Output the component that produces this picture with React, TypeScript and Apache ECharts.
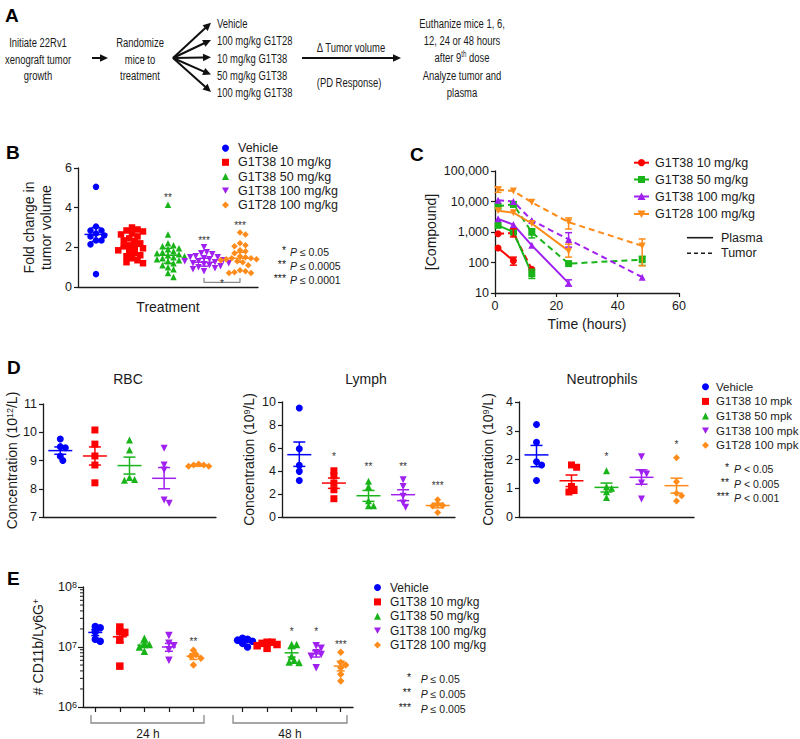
import React, { useEffect, useRef } from "react";
import * as echarts from "echarts";

const FONT = "'Liberation Sans', Arial, Helvetica, sans-serif";
const INK = "#1a1a1a";
const COLORS = ["#0000ff", "#ff0000", "#19b419", "#a020f0", "#ff8c1a"];
const DOWN_TRI = "path://M0,0L10,0L5,9Z";
const SYMBOLS = ["circle", "rect", "triangle", DOWN_TRI, "diamond"];

// ---------- Panel A (flow diagram) ----------
const A_START = ["Initiate 22Rv1", "xenograft tumor", "growth"];
const A_RANDOM = ["Randomize", "mice to", "treatment"];
const A_ARMS = ["Vehicle", "100 mg/kg G1T28", "10 mg/kg G1T38", "50 mg/kg G1T38", "100 mg/kg G1T38"];
const A_ARROW_TOP = "Δ Tumor volume";
const A_ARROW_BOTTOM = "(PD Response)";
const A_END = ["Euthanize mice 1, 6,", "12, 24 or 48 hours", "after 9{sup|th} dose", "Analyze tumor and", "plasma"];

// ---------- Panel B ----------
const B_GROUPS = ["Vehicle", "G1T38 10 mg/kg", "G1T38 50 mg/kg", "G1T38 100 mg/kg", "G1T28 100 mg/kg"];
const B_VEHICLE = [5.05, 3.05, 2.85, 2.85, 2.7, 2.6, 2.55, 2.35, 2.35, 2.15, 0.65];
const B_G1T38_10 = [3.0, 2.9, 2.85, 2.8, 2.7, 2.65, 2.55, 2.45, 2.35, 2.3, 2.2, 2.1, 2.05, 2.0, 1.95, 1.85, 1.8, 1.7, 1.6, 1.55, 1.45, 1.35, 1.25, 1.2];
const B_G1T38_50 = [4.15, 2.65, 2.2, 2.1, 2.05, 1.95, 1.9, 1.8, 1.75, 1.7, 1.65, 1.6, 1.55, 1.5, 1.45, 1.4, 1.35, 1.3, 1.2, 1.1, 1.0, 0.9, 0.7, 0.5];
const B_G1T38_100 = [2.0, 1.75, 1.7, 1.65, 1.55, 1.5, 1.5, 1.45, 1.4, 1.35, 1.3, 1.3, 1.25, 1.2, 1.2, 1.15, 1.1, 1.05, 1.0, 0.95, 0.9, 0.8];
const B_G1T28_100 = [2.75, 2.65, 2.2, 2.1, 2.05, 1.85, 1.8, 1.7, 1.55, 1.5, 1.45, 1.45, 1.4, 1.4, 1.35, 1.3, 1.25, 1.1, 0.85, 0.8, 0.75, 0.7, 0.7];
const B_CENTER = [2.65, 2.05, 1.6, 1.25, 1.45];
const B_LOW = [2.3, 1.65, 1.2, 1.05, 1.25];
const B_HIGH = [3.0, 2.45, 1.95, 1.45, 1.75];
const B_STARS = ["", "", "**", "***", "***"];
const B_STAR_Y = [0, 0, 4.5, 2.35, 3.1];
const B_PVALS = [["*", "≤ 0.05"], ["**", "≤ 0.0005"], ["***", "≤ 0.0001"]];

// ---------- Panel C ----------
const C_COMPOUNDS = ["G1T38 10 mg/kg", "G1T38 50 mg/kg", "G1T38 100 mg/kg", "G1T28 100 mg/kg"];
const C_HOURS = [1, 6, 12, 24, 48];
const C_PLASMA = [
  [300, 115, null, null, null],
  [1650, 1000, 43, null, null],
  [2700, 1750, 365, 21, null],
  [5000, 4300, 1900, 240, null],
];
const C_TUMOR = [
  [880, 920, 60, null, null],
  [7000, 8000, 980, 92, 124],
  [11000, 10000, 2400, 570, 33],
  [24500, 22000, 9400, 2100, 350],
];
const C_PLASMA_ERR = [
  [null, [82, 150], null, null, null],
  [null, null, [30, 60], null, null],
  [null, null, null, [17, 27], null],
  [null, null, null, [150, 400], null],
];
const C_TUMOR_ERR = [
  [null, [690, 1280], null, null, null],
  [null, null, [640, 1280], null, [80, 160]],
  [null, null, null, [320, 950], null],
  [[20000, 29500], null, null, [1250, 2900], [78, 590]],
];

// ---------- Panel D ----------
const D_GROUPS = ["Vehicle", "G1T38 10 mpk", "G1T38 50 mpk", "G1T38 100 mpk", "G1T28 100 mpk"];
const D_RBC = [[9.76, 9.49, 9.45, 9.15, 9.0], [10.08, 9.58, 9.16, 8.84, 8.21], [9.73, 9.37, 8.4, 8.3, 8.33], [9.43, 8.84, 8.66, 7.6, 7.49], [8.88, 8.84, 8.8, 8.8, 8.84]];
const D_RBC_MEAN = [9.35, 9.16, 8.82, 8.37, 8.82];
const D_RBC_LOW = [9.22, 8.84, 8.52, 8.0, 8.8];
const D_RBC_HIGH = [9.48, 9.48, 9.12, 8.75, 8.85];
const D_LYMPH = [[9.48, 5.94, 4.49, 3.97, 3.18], [4.02, 3.59, 2.95, 2.37, 1.59], [3.1, 2.66, 1.42, 0.98, 0.98], [3.24, 2.66, 1.8, 1.22, 0.84], [1.5, 1.1, 1.0, 0.95, 0.4]];
const D_LYMPH_MEAN = [5.42, 2.95, 1.85, 1.94, 1.0];
const D_LYMPH_LOW = [4.4, 2.49, 1.36, 1.42, 0.8];
const D_LYMPH_HIGH = [6.52, 3.39, 2.31, 2.37, 1.2];
const D_LYMPH_STARS = ["", "*", "**", "**", "***"];
const D_LYMPH_STAR_Y = [0, 5.3, 4.4, 4.4, 2.7];
const D_NEUT = [[3.22, 2.6, 1.92, 1.81, 1.27], [1.81, 1.73, 1.06, 0.87, 0.92], [1.61, 1.05, 1.0, 0.88, 0.68], [2.1, 1.55, 1.5, 1.18, 0.63], [2.06, 1.23, 0.83, 0.74, 0.56]];
const D_NEUT_MEAN = [2.16, 1.26, 1.03, 1.38, 1.09];
const D_NEUT_LOW = [1.75, 1.06, 0.87, 1.14, 0.83];
const D_NEUT_HIGH = [2.49, 1.46, 1.18, 1.64, 1.35];
const D_NEUT_STARS = ["", "", "*", "", "*"];
const D_NEUT_STAR_Y = [0, 0, 2.1, 0, 2.52];
const D_TITLES = ["RBC", "Lymph", "Neutrophils"];
const D_PVALS = [["*", "< 0.05"], ["**", "< 0.005"], ["***", "< 0.001"]];

// ---------- Panel E ----------
const E_GROUPS = ["Vehicle", "G1T38 10 mg/kg", "G1T38 50 mg/kg", "G1T38 100 mg/kg", "G1T28 100 mg/kg"];
const E_TIMES = ["24 h", "48 h"];
const E_24H = [[2.2e7, 2.1e7, 1.8e7, 1.35e7, 1.25e7], [2.15e7, 1.8e7, 1.75e7, 1.3e7, 4.8e6], [1.4e7, 1.15e7, 1.1e7, 1.0e7, 8.5e6], [1.55e7, 1.15e7, 1.05e7, 9.0e6, 6.0e6], [8.8e6, 7.5e6, 7.0e6, 6.5e6, 5.0e6]];
const E_48H = [[1.4e7, 1.35e7, 1.3e7, 1.25e7, 1.15e7, 1.0e7], [1.2e7, 1.2e7, 1.15e7, 1.1e7, 1.05e7, 9.5e6], [1.1e7, 1.1e7, 7.0e6, 6.0e6, 5.6e6, 5.5e6], [1.05e7, 9.5e6, 8.0e6, 7.5e6, 7.0e6, 4.5e6], [8.2e6, 5.5e6, 5.0e6, 4.5e6, 3.5e6, 2.7e6]];
const E_MEAN_24 = [1.75e7, 1.48e7, 1.07e7, 1.0e7, 7.0e6];
const E_LOW_24 = [1.55e7, 1.2e7, 9.8e6, 8.5e6, 6.2e6];
const E_HIGH_24 = [1.95e7, 1.8e7, 1.17e7, 1.15e7, 7.7e6];
const E_MEAN_48 = [1.25e7, 1.1e7, 8.0e6, 7.7e6, 4.8e6];
const E_LOW_48 = [1.18e7, 1.06e7, 6.8e6, 6.8e6, 4.0e6];
const E_HIGH_48 = [1.32e7, 1.15e7, 9.4e6, 8.7e6, 5.8e6];
const E_STARS_24 = ["", "", "", "", "**"];
const E_STAR_Y_24 = [0, 0, 0, 0, 1.22e7];
const E_STARS_48 = ["", "", "*", "*", "***"];
const E_STAR_Y_48 = [0, 0, 1.8e7, 1.8e7, 1.12e7];
const E_PVALS = [["*", "≤ 0.05"], ["**", "≤ 0.005"], ["***", "≤ 0.005"]];

// ---------- helpers ----------
function swarm(vals: number[], toPx: (v: number) => number, minDist: number, catPx: number): number[] {
  const order = vals.map((_, i) => i).sort((a, b) => vals[b] - vals[a]);
  const placed: number[][] = [];
  const res = vals.map(() => 0);
  const step = minDist * 0.55;
  order.forEach((i) => {
    const y = toPx(vals[i]);
    for (let k = 0; k < 80; k++) {
      const mag = Math.ceil(k / 2) * step;
      const x = k % 2 === 1 ? mag : -mag;
      if (placed.every(([px, py]) => Math.hypot(px - x, py - y) >= minDist)) {
        placed.push([x, y]);
        res[i] = x / catPx;
        return;
      }
    }
  });
  return res;
}

function errSeries(xAxisIndex: number, yAxisIndex: number, data: number[][], meanHalf: number, capHalf: number) {
  return {
    type: "custom",
    xAxisIndex,
    yAxisIndex,
    silent: true,
    z: 5,
    data,
    renderItem: (_p: any, api: any) => {
      const x = api.value(0), m = api.value(1), lo = api.value(2), hi = api.value(3);
      const color = COLORS[api.value(4)];
      const pm = api.coord([x, m]);
      const pl = api.coord([x, lo]);
      const ph = api.coord([x, hi]);
      const style = { stroke: color, lineWidth: 1.5 };
      const children: any[] = [
        { type: "line", shape: { x1: pl[0], y1: pl[1], x2: ph[0], y2: ph[1] }, style },
        { type: "line", shape: { x1: pl[0] - capHalf, y1: pl[1], x2: pl[0] + capHalf, y2: pl[1] }, style },
        { type: "line", shape: { x1: ph[0] - capHalf, y1: ph[1], x2: ph[0] + capHalf, y2: ph[1] }, style },
      ];
      if (meanHalf > 0) children.push({ type: "line", shape: { x1: pm[0] - meanHalf, y1: pm[1], x2: pm[0] + meanHalf, y2: pm[1] }, style });
      return { type: "group", children };
    },
  };
}

// significance stars, placed through the axes (custom series drawing plain text)
function starSeries(xAxisIndex: number, yAxisIndex: number, items: { x: number; y: number; t: string }[]) {
  const kept = items.filter((s) => s.t);
  return {
    type: "custom",
    xAxisIndex,
    yAxisIndex,
    silent: true,
    z: 6,
    data: kept.map((s) => [s.x, s.y]),
    renderItem: (p: any, api: any) => {
      const c = api.coord([api.value(0), api.value(1)]);
      return {
        type: "text",
        x: c[0],
        y: c[1],
        style: { text: kept[p.dataIndex].t, fill: "#333", fontSize: 10, fontFamily: FONT, textAlign: "center", textVerticalAlign: "middle" },
      };
    },
  };
}

function T(text: string, x: number, y: number, o: any = {}) {
  return {
    type: "text",
    x,
    y,
    scaleX: o.scaleX ?? 1,
    silent: true,
    style: {
      text,
      fill: o.fill ?? INK,
      fontSize: o.size ?? 12,
      fontFamily: FONT,
      fontStyle: o.italic ? "italic" : "normal",
      fontWeight: o.bold ? "bold" : "normal",
      textAlign: o.align ?? "left",
      textVerticalAlign: "middle",
      rich: o.rich,
    },
  };
}

function arrow(x1: number, y1: number, x2: number, y2: number) {
  const a = Math.atan2(y2 - y1, x2 - x1);
  const head = 8, hw = 3.8;
  const bx = x2 - head * Math.cos(a), by = y2 - head * Math.sin(a);
  const px = -Math.sin(a) * hw, py = Math.cos(a) * hw;
  return [
    { type: "line", silent: true, shape: { x1, y1, x2: bx + Math.cos(a) * 1, y2: by + Math.sin(a) * 1 }, style: { stroke: "#111", lineWidth: 2 } },
    { type: "polygon", silent: true, shape: { points: [[x2, y2], [bx + px, by + py], [bx - px, by - py]] }, style: { fill: "#111" } },
  ];
}

const axisLine = { show: true, lineStyle: { color: INK, width: 1.3 } };
const tick = { show: true, length: 4, lineStyle: { color: INK, width: 1.2 } };
const lbl = { color: INK, fontSize: 12.5, fontFamily: FONT, margin: 6 };

function plainX(gridIndex: number, max: number, extra: any = {}) {
  return { type: "value", gridIndex, min: 0, max, axisLine, axisTick: { show: false }, axisLabel: { show: false }, splitLine: { show: false }, ...extra };
}

function buildOption() {
  // ---- Panel B series
  const bSets = [B_VEHICLE, B_G1T38_10, B_G1T38_50, B_G1T38_100, B_G1T28_100];
  const bPx = 119 / 6;
  const series: any[] = [];
  bSets.forEach((vals, i) => {
    const off = swarm(vals, (v) => v * bPx, 5, 36);
    series.push({
      type: "scatter",
      name: B_GROUPS[i],
      xAxisIndex: 0,
      yAxisIndex: 0,
      symbol: SYMBOLS[i],
      symbolSize: 6.5,
      itemStyle: { color: COLORS[i], opacity: 1 },
      data: vals.map((v, j) => [i + 0.5 + off[j], v]),
    });
  });
  series.push(errSeries(0, 0, B_CENTER.map((m, i) => [i + 0.5, m, B_LOW[i], B_HIGH[i], i]), 11.5, 4.5));
  series.push(starSeries(0, 0, B_STARS.map((t, i) => ({ x: i + 0.5, y: B_STAR_Y[i], t }))));
  series.push({
    type: "line",
    xAxisIndex: 0,
    yAxisIndex: 0,
    silent: true,
    symbol: "none",
    lineStyle: { color: "#8a8a8a", width: 1.3 },
    data: [[3.5, 0.45], [3.5, 0.23], [4.5, 0.23], [4.5, 0.45]],
  });
  series.push(starSeries(0, 0, [{ x: 4, y: 0.2, t: "*" }]));

  // ---- Panel C series
  const cSym = ["circle", "rect", "triangle", DOWN_TRI];
  const cErr: number[][] = [];
  C_COMPOUNDS.forEach((name, i) => {
    const color = COLORS[i + 1];
    const plasma = C_HOURS.map((h, j) => [h, C_PLASMA[i][j]]).filter((p) => p[1] != null);
    const tumor = C_HOURS.map((h, j) => [h, C_TUMOR[i][j]]).filter((p) => p[1] != null);
    series.push({ type: "line", name, xAxisIndex: 1, yAxisIndex: 1, symbol: cSym[i], symbolSize: 7, showSymbol: true, lineStyle: { color, width: 2 }, itemStyle: { color }, data: plasma });
    series.push({ type: "line", name: name + " (tumor)", xAxisIndex: 1, yAxisIndex: 1, symbol: cSym[i], symbolSize: 7, showSymbol: true, lineStyle: { color, width: 2, type: [6, 4] }, itemStyle: { color }, data: tumor });
    C_HOURS.forEach((h, j) => {
      const pe = C_PLASMA_ERR[i][j] as any;
      if (pe) cErr.push([h, pe[0], pe[0], pe[1], i + 1]);
      const te = C_TUMOR_ERR[i][j] as any;
      if (te) cErr.push([h, te[0], te[0], te[1], i + 1]);
    });
  });
  series.push(errSeries(1, 1, cErr, 0, 3.5));

  // ---- Panel D series
  const dSets = [D_RBC, D_LYMPH, D_NEUT];
  const dPx = [113 / 4, 115 / 10, 115 / 4];
  const dMeans = [D_RBC_MEAN, D_LYMPH_MEAN, D_NEUT_MEAN];
  const dLows = [D_RBC_LOW, D_LYMPH_LOW, D_NEUT_LOW];
  const dHighs = [D_RBC_HIGH, D_LYMPH_HIGH, D_NEUT_HIGH];
  dSets.forEach((groups, k) => {
    groups.forEach((vals, i) => {
      const off = swarm(vals, (v) => v * dPx[k], 4.6, 34.6);
      series.push({
        type: "scatter",
        name: D_GROUPS[i],
        xAxisIndex: 2 + k,
        yAxisIndex: 2 + k,
        symbol: SYMBOLS[i],
        symbolSize: 7,
        itemStyle: { color: COLORS[i], opacity: 1 },
        data: vals.map((v, j) => [i + 0.5 + off[j], v]),
      });
    });
    series.push(errSeries(2 + k, 2 + k, dMeans[k].map((m, i) => [i + 0.5, m, dLows[k][i], dHighs[k][i], i]), 12, 6));
  });
  series.push(starSeries(3, 3, D_LYMPH_STARS.map((t, i) => ({ x: i + 0.5, y: D_LYMPH_STAR_Y[i], t }))));
  series.push(starSeries(4, 4, D_NEUT_STARS.map((t, i) => ({ x: i + 0.5, y: D_NEUT_STAR_Y[i], t }))));

  // ---- Panel E series
  const ePx = 60.3;
  E_GROUPS.forEach((name, i) => {
    const o24 = swarm(E_24H[i], (v) => Math.log10(v) * ePx, 4.5, 24.5);
    const o48 = swarm(E_48H[i], (v) => Math.log10(v) * ePx, 4.5, 24.5);
    series.push({
      type: "scatter",
      name,
      xAxisIndex: 5,
      yAxisIndex: 5,
      symbol: SYMBOLS[i],
      symbolSize: 7.5,
      itemStyle: { color: COLORS[i], opacity: 1 },
      data: [
        ...E_24H[i].map((v, j) => [i + 0.5 + o24[j], v]),
        ...E_48H[i].map((v, j) => [6 + i + 0.5 + o48[j], v]),
      ],
    });
  });
  series.push(errSeries(5, 5, [
    ...E_MEAN_24.map((m, i) => [i + 0.5, m, E_LOW_24[i], E_HIGH_24[i], i]),
    ...E_MEAN_48.map((m, i) => [6 + i + 0.5, m, E_LOW_48[i], E_HIGH_48[i], i]),
  ], 7, 4));
  series.push(starSeries(5, 5, [
    ...E_STARS_24.map((t, i) => ({ x: i + 0.5, y: E_STAR_Y_24[i], t })),
    ...E_STARS_48.map((t, i) => ({ x: 6 + i + 0.5, y: E_STAR_Y_48[i], t })),
  ]));
  // minor log ticks on E y-axis
  const minor: number[][] = [];
  [6, 7].forEach((d) => {
    for (let m = 2; m <= 9; m++) minor.push([0, m * Math.pow(10, d)]);
  });
  series.push({
    type: "custom",
    xAxisIndex: 5,
    yAxisIndex: 5,
    silent: true,
    data: minor,
    renderItem: (_p: any, api: any) => {
      const p = api.coord([api.value(0), api.value(1)]);
      return { type: "line", shape: { x1: p[0] - 3, y1: p[1], x2: p[0], y2: p[1] }, style: { stroke: INK, lineWidth: 1 } };
    },
  });

  // ---- graphics
  const g: any[] = [];
  [["A", 5, 15], ["B", 6, 152], ["C", 410, 154], ["D", 7, 367], ["E", 7, 578]].forEach(([t, x, y]) =>
    g.push(T(t as string, x as number, y as number, { size: 19, bold: true, fill: "#000" }))
  );
  // Panel A
  const aS = { size: 13.5, scaleX: 0.7 };
  A_START.forEach((t, i) => g.push(T(t, 38, 41.7 + i * 16.7, { ...aS, align: "center" })));
  g.push(...arrow(92, 58, 108, 58));
  A_RANDOM.forEach((t, i) => g.push(T(t, 140, 41.7 + i * 16.7, { ...aS, align: "center" })));
  A_ARMS.forEach((t, i) => {
    const y = 22.7 + i * 17.3;
    g.push(...arrow(173, 58, 211, y));
    g.push(T(t, 217, y, { ...aS }));
  });
  g.push(...arrow(302, 58, 401, 58));
  g.push(T(A_ARROW_TOP, 351, 46.7, { ...aS, align: "center" }));
  g.push(T(A_ARROW_BOTTOM, 349, 81.7, { ...aS, align: "center" }));
  A_END.forEach((t, i) =>
    g.push(T(t, 462, 22.7 + i * 17.2, { ...aS, align: "center", rich: { sup: { fontSize: 8.5, fontFamily: FONT, fill: INK, verticalAlign: "top", lineHeight: 8 } } }))
  );

  // P-value notes
  const pv = (rows: string[][], xr: number, xp: number, y0: number, dy: number) => {
    rows.forEach(([s, t], i) => {
      g.push(T(s, xr, y0 + i * dy - 2, { size: 10.5, align: "right" }));
      g.push(T("{i|P} " + t, xp, y0 + i * dy, { size: 10.5, rich: { i: { fontStyle: "italic", fontSize: 10.5, fontFamily: FONT, fill: INK } } }));
    });
  };
  pv(B_PVALS, 286, 290, 251.7, 14.2);
  pv(D_PVALS, 729, 734, 469, 14.6);
  pv(E_PVALS, 411, 420.7, 679, 14.8);

  // C legend
  const cRows = [162.7, 179.5, 196.5, 214];
  C_COMPOUNDS.forEach((name, i) => {
    const cy = cRows[i], cx = 641.5, color = COLORS[i + 1];
    g.push({ type: "line", silent: true, shape: { x1: 634, y1: cy, x2: 649, y2: cy }, style: { stroke: color, lineWidth: 2 } });
    if (i === 0) g.push({ type: "circle", silent: true, shape: { cx, cy, r: 3.6 }, style: { fill: color } });
    if (i === 1) g.push({ type: "rect", silent: true, shape: { x: cx - 3.5, y: cy - 3.5, width: 7, height: 7 }, style: { fill: color } });
    if (i === 2) g.push({ type: "polygon", silent: true, shape: { points: [[cx, cy - 4], [cx - 4, cy + 3.5], [cx + 4, cy + 3.5]] }, style: { fill: color } });
    if (i === 3) g.push({ type: "polygon", silent: true, shape: { points: [[cx - 4, cy - 3.5], [cx + 4, cy - 3.5], [cx, cy + 4]] }, style: { fill: color } });
    g.push(T(name, 655, cy, { size: 12.5 }));
  });
  g.push({ type: "line", silent: true, shape: { x1: 687, y1: 237.7, x2: 713, y2: 237.7 }, style: { stroke: INK, lineWidth: 1.6 } });
  g.push(T("Plasma", 721, 237.7, { size: 12.5 }));
  g.push({ type: "line", silent: true, shape: { x1: 687, y1: 253.3, x2: 713, y2: 253.3 }, style: { stroke: INK, lineWidth: 1.6, lineDash: [4, 3] } });
  g.push(T("Tumor", 721, 253.3, { size: 12.5 }));

  // D titles
  [[128, D_TITLES[0]], [366, D_TITLES[1]], [602, D_TITLES[2]]].forEach(([x, t]) => g.push(T(t as string, x as number, 378.5, { size: 14, align: "center" })));

  // E brackets
  const br = "#8a8a8a";
  g.push({ type: "polyline", silent: true, shape: { points: [[91, 715], [91, 723], [204, 723], [204, 715]] }, style: { stroke: br, lineWidth: 1.3, fill: null } });
  g.push({ type: "polyline", silent: true, shape: { points: [[233, 715], [233, 723], [347, 723], [347, 715]] }, style: { stroke: br, lineWidth: 1.3, fill: null } });
  g.push(T(E_TIMES[0], 148, 733.5, { size: 12, align: "center" }));
  g.push(T(E_TIMES[1], 290, 733.5, { size: 12, align: "center" }));

  const supRich = { sup: { fontSize: 9, fontFamily: FONT, color: INK, verticalAlign: "top", lineHeight: 9 } };
  const legendBase = {
    orient: "vertical",
    itemWidth: 7,
    itemHeight: 7,
    itemGap: 0,
    selectedMode: false,
    textStyle: { fontSize: 12.5, fontFamily: FONT, color: INK, lineHeight: 14.2, padding: [0, 0, 0, 4] },
  };

  return {
    animation: false,
    backgroundColor: "#fff",
    textStyle: { fontFamily: FONT },
    grid: [
      { left: 78, top: 168, width: 180, height: 119 },
      { left: 495, top: 171, width: 184, height: 122 },
      { left: 43, top: 404, width: 173, height: 113 },
      { left: 282, top: 402, width: 173, height: 115 },
      { left: 519, top: 402, width: 175, height: 115 },
      { left: 83, top: 587, width: 270, height: 120 },
    ],
    legend: [
      { ...legendBase, left: 217, top: 136, data: B_GROUPS },
      { ...legendBase, left: 697, top: 374.5, textStyle: { ...legendBase.textStyle, fontSize: 11.5, lineHeight: 14.6, padding: [0, 0, 0, 2] }, data: D_GROUPS },
      { ...legendBase, left: 369, top: 575.3, textStyle: { ...legendBase.textStyle, fontSize: 12, lineHeight: 14.4 }, data: E_GROUPS },
    ],
    xAxis: [
      plainX(0, 5, { name: "Treatment", nameLocation: "middle", nameGap: 13, nameTextStyle: { fontSize: 14, color: INK, fontFamily: FONT } }),
      {
        type: "value", gridIndex: 1, min: 0, max: 60, interval: 20,
        axisLine, axisTick: tick, axisLabel: lbl, splitLine: { show: false },
        name: "Time (hours)", nameLocation: "middle", nameGap: 24, nameTextStyle: { fontSize: 14, color: INK, fontFamily: FONT },
      },
      plainX(2, 5),
      plainX(3, 5),
      plainX(4, 5),
      { type: "value", gridIndex: 5, min: 0, max: 11, show: false, position: "top" },
      {
        type: "category", gridIndex: 5, position: "bottom",
        data: ["0", "1", "2", "3", "4", "5", "6", "7", "8", "9", "10"],
        boundaryGap: true,
        axisLine,
        axisTick: { show: true, length: 5, alignWithLabel: true, interval: (i: number) => i !== 5, lineStyle: { color: INK, width: 1.2 } },
        axisLabel: { show: false },
        splitLine: { show: false },
      },
    ],
    yAxis: [
      {
        type: "value", gridIndex: 0, min: 0, max: 6, interval: 2,
        axisLine, axisTick: tick, axisLabel: lbl, splitLine: { show: false },
        name: "Fold change in\ntumor volume", nameLocation: "middle", nameRotate: 90, nameGap: 24,
        nameTextStyle: { fontSize: 14, lineHeight: 17, color: INK, fontFamily: FONT },
      },
      {
        type: "log", logBase: 10, gridIndex: 1, min: 10, max: 100000,
        axisLine, axisTick: tick, splitLine: { show: false },
        axisLabel: { ...lbl, formatter: (v: number) => Math.round(v).toLocaleString("en-US") },
        name: "[Compound]", nameLocation: "middle", nameRotate: 90, nameGap: 57,
        nameTextStyle: { fontSize: 14, color: INK, fontFamily: FONT },
      },
      {
        type: "value", gridIndex: 2, min: 7, max: 11, interval: 1,
        axisLine, axisTick: tick, axisLabel: lbl, splitLine: { show: false },
        name: "Concentration (10{sup|12}/L)", nameLocation: "middle", nameRotate: 90, nameGap: 24,
        nameTextStyle: { fontSize: 14, color: INK, fontFamily: FONT, rich: supRich },
      },
      {
        type: "value", gridIndex: 3, min: 0, max: 10, interval: 2,
        axisLine, axisTick: tick, axisLabel: lbl, splitLine: { show: false },
        name: "Concentration (10{sup|9}/L)", nameLocation: "middle", nameRotate: 90, nameGap: 26,
        nameTextStyle: { fontSize: 14, color: INK, fontFamily: FONT, rich: supRich },
      },
      {
        type: "value", gridIndex: 4, min: 0, max: 4, interval: 1,
        axisLine, axisTick: tick, axisLabel: lbl, splitLine: { show: false },
        name: "Concentration (10{sup|9}/L)", nameLocation: "middle", nameRotate: 90, nameGap: 24,
        nameTextStyle: { fontSize: 14, color: INK, fontFamily: FONT, rich: supRich },
      },
      {
        type: "log", logBase: 10, gridIndex: 5, min: 1e6, max: 1e8,
        axisLine, axisTick: { ...tick, length: 5 }, splitLine: { show: false },
        axisLabel: { ...lbl, formatter: (v: number) => "10{sup|" + Math.round(Math.log10(v)) + "}", rich: supRich },
        name: "# CD11b/Ly6G{sup|+}", nameLocation: "middle", nameRotate: 90, nameGap: 38,
        nameTextStyle: { fontSize: 14, color: INK, fontFamily: FONT, rich: supRich },
      },
    ],
    graphic: { elements: g },
    series,
  };
}

export default function App() {
  const ref = useRef<HTMLDivElement>(null);
  useEffect(() => {
    if (!ref.current) return;
    const chart = echarts.init(ref.current, null, { renderer: "svg" });
    chart.setOption(buildOption() as any);
    return () => chart.dispose();
  }, []);
  return (
    <div
      ref={ref}
      style={{ position: "absolute", left: 0, top: 0, width: 800, height: 739, background: "#fff" }}
    />
  );
}
